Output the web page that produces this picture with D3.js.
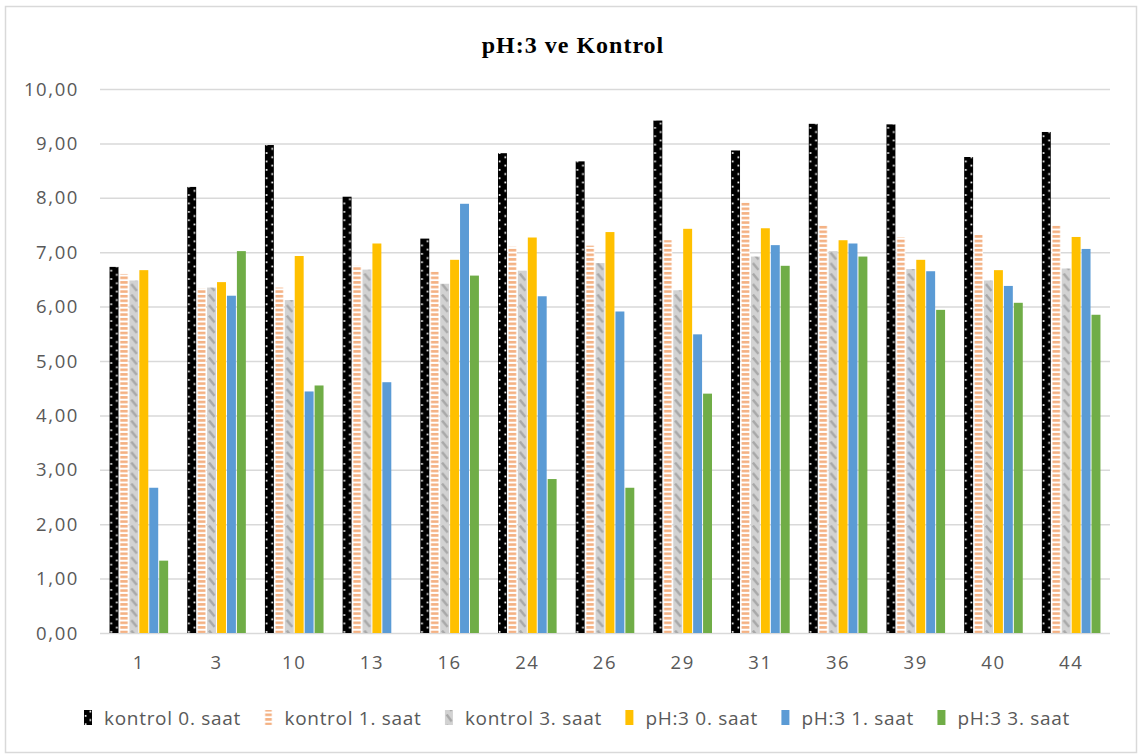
<!DOCTYPE html>
<html>
<head>
<meta charset="utf-8">
<script src="https://cdn.jsdelivr.net/npm/d3@7"></script>
<style>
  body { margin: 0; background: #fff; }
  text { font-family: "Open Sans", "Liberation Sans", sans-serif; }
</style>
</head>
<body>
<svg id="chart"></svg>
<script>
// Chart data
const categories = ["1", "3", "10", "13", "16", "24", "26", "29", "31", "36", "39", "40", "44"];
const seriesNames = ["kontrol 0. saat", "kontrol 1. saat", "kontrol 3. saat", "pH:3 0. saat", "pH:3 1. saat", "pH:3 3. saat"];
const kontrol0 = [6.73, 8.20, 8.97, 8.02, 7.25, 8.82, 8.67, 9.42, 8.87, 9.36, 9.35, 8.75, 9.21];
const kontrol1 = [6.60, 6.33, 6.35, 6.75, 6.65, 7.10, 7.12, 7.22, 7.94, 7.50, 7.27, 7.33, 7.50];
const kontrol3 = [6.48, 6.35, 6.12, 6.68, 6.42, 6.66, 6.80, 6.30, 6.92, 7.02, 6.69, 6.48, 6.70];
const ph0 = [6.67, 6.45, 6.93, 7.16, 6.86, 7.27, 7.37, 7.43, 7.44, 7.22, 6.86, 6.67, 7.28];
const ph1 = [2.67, 6.20, 4.44, 4.61, 7.89, 6.19, 5.91, 5.49, 7.13, 7.16, 6.65, 6.38, 7.06];
const ph3 = [1.33, 7.02, 4.55, 0, 6.57, 2.83, 2.67, 4.40, 6.75, 6.92, 5.94, 6.07, 5.85];
const yTicks = [0, 1, 2, 3, 4, 5, 6, 7, 8, 9, 10];

const allSeries = [kontrol0, kontrol1, kontrol3, ph0, ph1, ph3];

const width = 1140, height = 754;
const margin = { top: 89, right: 30, bottom: 121, left: 100 };

const svg = d3.select("#chart")
    .attr("width", width)
    .attr("height", height);

// Outer frame
svg.append("rect")
    .attr("x", 5.5).attr("y", 6.5)
    .attr("width", 1131).attr("height", 746)
    .attr("fill", "#fff")
    .attr("stroke", "#d9d9d9")
    .attr("stroke-width", 1.5);

const x0 = d3.scaleBand()
    .domain(categories)
    .range([margin.left, width - margin.right])
    .paddingInner(0.22)
    .paddingOuter(0.11);

const x1 = d3.scaleBand()
    .domain(d3.range(seriesNames.length))
    .range([0, x0.bandwidth()])
    .padding(0.1);

const y = d3.scaleLinear()
    .domain([0, 10])
    .range([height - margin.bottom, margin.top]);

const bw = x1.bandwidth();
const defs = svg.append("defs");

// Hatch patterns; x offset lines the tile up with the bar inside its group
function makePatterns(prefix, offsets, w, tileW) {
    const dots = defs.append("pattern")
        .attr("id", prefix + "dots")
        .attr("patternUnits", "userSpaceOnUse")
        .attr("x", offsets[0]).attr("y", 0)
        .attr("width", tileW).attr("height", 8.4);
    dots.append("rect").attr("width", tileW).attr("height", 8.4).attr("fill", "#000");
    dots.append("rect").attr("x", 0.8).attr("y", 1).attr("width", 1.7).attr("height", 1.7).attr("fill", "#fff");
    dots.append("rect").attr("x", w - 2.5).attr("y", 5.2).attr("width", 1.7).attr("height", 1.7).attr("fill", "#fff");

    const stripes = defs.append("pattern")
        .attr("id", prefix + "stripes")
        .attr("patternUnits", "userSpaceOnUse")
        .attr("x", offsets[1]).attr("y", 0.5)
        .attr("width", tileW).attr("height", 4.6);
    stripes.append("rect").attr("width", tileW).attr("height", 4.6).attr("fill", "#fff");
    stripes.append("rect").attr("x", 0.6).attr("y", 0).attr("width", w - 1.2).attr("height", 2.6).attr("fill", "#f4b183");

    const diag = defs.append("pattern")
        .attr("id", prefix + "diag")
        .attr("patternUnits", "userSpaceOnUse")
        .attr("x", offsets[2]).attr("y", 0)
        .attr("width", tileW).attr("height", 10.5);
    diag.append("rect").attr("width", tileW).attr("height", 10.5).attr("fill", "#d2d2d2");
    diag.append("path")
        .attr("d", `M${w * 0.3},1.5 L${w * 0.75},6.5`)
        .attr("stroke", "#a8a8a8").attr("stroke-width", 2.4).attr("stroke-linecap", "square");
}
makePatterns("bar-", [x1(0), x1(1), x1(2)], bw, x0.step());
makePatterns("leg-", [0, 0, 0], 8, 40);

const barFills = ["url(#bar-dots)", "url(#bar-stripes)", "url(#bar-diag)", "#ffc000", "#5b9bd5", "#70ad47"];
const legendFills = ["url(#leg-dots)", "url(#leg-stripes)", "url(#leg-diag)", "#ffc000", "#5b9bd5", "#70ad47"];

// Gridlines
svg.append("g")
    .selectAll("line")
    .data(yTicks)
    .join("line")
    .attr("x1", margin.left)
    .attr("x2", width - margin.right)
    .attr("y1", d => y(d) + 0.5)
    .attr("y2", d => y(d) + 0.5)
    .attr("stroke", "#d9d9d9")
    .attr("stroke-width", 1.5);

// Bars
const groups = svg.append("g")
    .selectAll("g")
    .data(categories)
    .join("g")
    .attr("transform", d => `translate(${x0(d)},0)`);

groups.selectAll("rect")
    .data((d, i) => allSeries.map((s, k) => ({ k, v: s[i] })))
    .join("rect")
    .filter(d => d.v > 0)
    .attr("x", d => x1(d.k))
    .attr("y", d => y(d.v))
    .attr("width", bw)
    .attr("height", d => y(0) - y(d.v))
    .attr("fill", d => barFills[d.k]);

// Y axis labels
svg.append("g")
    .selectAll("text")
    .data(yTicks)
    .join("text")
    .attr("x", 79)
    .attr("y", d => y(d))
    .attr("dy", "0.36em")
    .attr("text-anchor", "end")
    .attr("font-size", 18.5)
    .attr("letter-spacing", 1.6)
    .attr("fill", "#595959")
    .text(d => d3.format(".2f")(d).replace(".", ","));

// X axis labels
svg.append("g")
    .selectAll("text")
    .data(categories)
    .join("text")
    .attr("x", d => x0(d) + x0.bandwidth() / 2)
    .attr("y", y(0) + 29)
    .attr("dy", "0.36em")
    .attr("text-anchor", "middle")
    .attr("font-size", 18.5)
    .attr("letter-spacing", 1.6)
    .attr("fill", "#595959")
    .text(d => d);

// Title
svg.append("text")
    .attr("x", 573)
    .attr("y", 53)
    .attr("text-anchor", "middle")
    .style("font-family", "'Liberation Serif', 'DejaVu Serif', serif")
    .style("font-weight", "bold")
    .attr("font-size", 24)
    .attr("letter-spacing", 1)
    .text("pH:3 ve Kontrol");

// Legend
const legend = svg.append("g")
    .selectAll("g")
    .data(seriesNames)
    .join("g");

legend.append("rect")
    .attr("y", 710)
    .attr("width", 8).attr("height", 15)
    .attr("fill", (d, i) => legendFills[i]);

legend.append("text")
    .attr("x", 20)
    .attr("y", 718)
    .attr("dy", "0.36em")
    .attr("font-size", 19)
    .attr("letter-spacing", 0.7)
    .attr("fill", "#595959")
    .text(d => d);

// Lay legend items out from their measured text widths, spread between 84 and 1070
const textW = [];
legend.select("text").each(function () { textW.push(this.getComputedTextLength()); });
const legStart = 84, legEnd = 1070;
const gap = (legEnd - legStart - d3.sum(textW) - 20 * textW.length) / (textW.length - 1);
let cursor = legStart;
legend.each(function (d, i) {
    d3.select(this).select("rect").attr("x", 0);
    d3.select(this).attr("transform", `translate(${cursor},0)`);
    cursor += 20 + textW[i] + gap;
});
</script>
</body>
</html>
